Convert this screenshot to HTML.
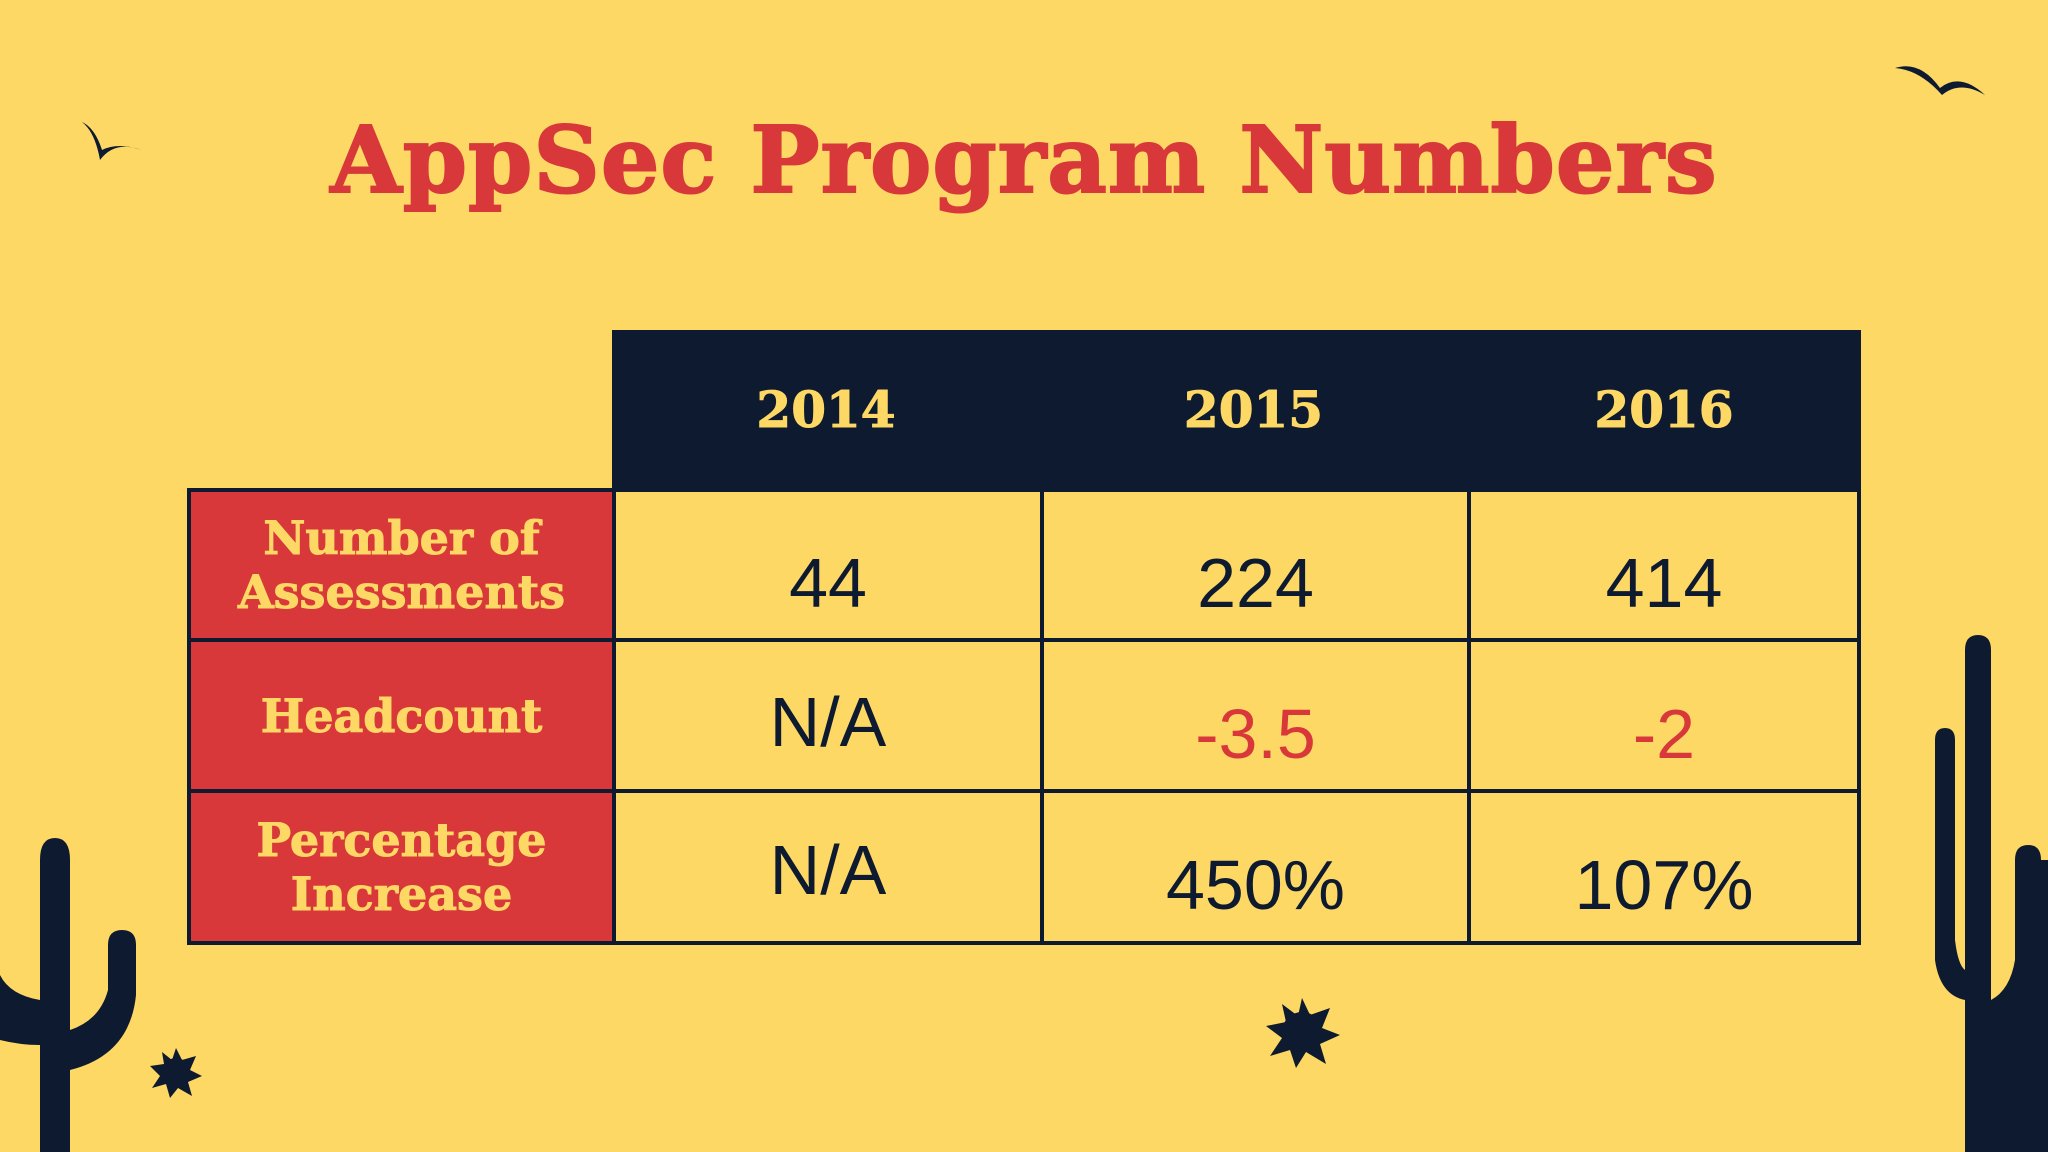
<!DOCTYPE html>
<html><head><meta charset="utf-8">
<style>
html,body{margin:0;padding:0}
body{width:2048px;height:1152px;background:#fdd865;position:relative;overflow:hidden;font-family:"Liberation Sans",sans-serif}
.abs{position:absolute}
.title{left:0;width:2048px;top:106px;text-align:center;font-family:"DejaVu Serif",serif;font-weight:bold;font-size:92px;color:#d8383a;letter-spacing:1px;-webkit-text-stroke:2px #d8383a}
.hdr{background:#0d1a30;left:612px;top:330px;width:1249px;height:160px}
.yr{top:330px;height:160px;line-height:160px;text-align:center;font-family:"DejaVu Serif",serif;font-weight:bold;font-size:50px;color:#fdd865;-webkit-text-stroke:1px #fdd865}
.cell{box-sizing:border-box;border:4px solid #0d1a30;display:flex;align-items:center;justify-content:center;text-align:center}
.lab{background:#d8383a;color:#fdd865;font-family:"DejaVu Serif",serif;font-weight:bold;font-size:46px;line-height:54px;-webkit-text-stroke:1px #fdd865}
.val{font-size:70px;color:#0d1a30;padding-top:36px}
.red{color:#d8383a}
</style></head><body>
<div class="abs title">AppSec Program Numbers</div>

<svg class="abs" style="left:0;top:0" width="2048" height="1152">
  <path d="M82 122 Q95 132 100 160 Q115 140 142 150 Q118 142 102 150 Q95 128 82 122Z" fill="#0d1a30"/>
  <path d="M1895 68 Q1920 60 1940 88 Q1960 72 1985 95 Q1960 80 1942 95 Q1920 70 1895 68Z" fill="#0d1a30"/>
  <path d="M40 1152 L40 860 Q40 838 55 838 Q70 838 70 860 L70 1030 Q100 1020 108 990 L108 945 Q108 930 122 930 Q136 930 136 945 L136 995 Q130 1055 70 1070 L70 1152Z M40 1000 Q10 995 0 975 L0 1040 Q20 1045 40 1045Z" fill="#0d1a30"/>
  <path d="M1965 1152 L1965 650 Q1965 635 1978 635 Q1991 635 1991 650 L1991 1000 Q2010 990 2015 960 L2015 860 Q2015 845 2028 845 Q2041 845 2041 860 L2048 860 L2048 1152Z M1965 1000 Q1940 995 1935 960 L1935 740 Q1935 728 1945 728 Q1955 728 1955 740 L1955 940 Q1958 965 1965 970Z" fill="#0d1a30"/>
  <g fill="#0d1a30"><circle cx="1302" cy="1032" r="20"/><polygon points="1302,998 1310,1015 1330,1008 1322,1028 1340,1035 1320,1044 1326,1064 1306,1052 1296,1068 1290,1050 1270,1056 1282,1038 1266,1026 1286,1022 1282,1004 1298,1016"/>
  <circle cx="176" cy="1072" r="14"/><polygon points="176,1048 182,1060 196,1056 190,1070 202,1076 188,1082 192,1096 178,1088 170,1098 166,1084 152,1088 160,1076 150,1066 164,1064 162,1052 172,1060"/></g>
</svg>

<div class="abs hdr"></div>
<div class="abs yr" style="left:612px;width:428px">2014</div>
<div class="abs yr" style="left:1040px;width:427px">2015</div>
<div class="abs yr" style="left:1467px;width:394px">2016</div>

<!-- row 1 -->
<div class="abs cell lab" style="left:187px;top:488px;width:429px;height:154px">Number of<br>Assessments</div>
<div class="abs cell val" style="left:612px;top:488px;width:432px;height:154px">44</div>
<div class="abs cell val" style="left:1040px;top:488px;width:431px;height:154px">224</div>
<div class="abs cell val" style="left:1467px;top:488px;width:394px;height:154px">414</div>
<!-- row 2 -->
<div class="abs cell lab" style="left:187px;top:638px;width:429px;height:155px">Headcount</div>
<div class="abs cell val" style="left:612px;top:638px;width:432px;height:155px;padding-top:12px">N/A</div>
<div class="abs cell val red" style="left:1040px;top:638px;width:431px;height:155px">-3.5</div>
<div class="abs cell val red" style="left:1467px;top:638px;width:394px;height:155px">-2</div>
<!-- row 3 -->
<div class="abs cell lab" style="left:187px;top:789px;width:429px;height:156px">Percentage<br>Increase</div>
<div class="abs cell val" style="left:612px;top:789px;width:432px;height:156px;padding-top:6px">N/A</div>
<div class="abs cell val" style="left:1040px;top:789px;width:431px;height:156px">450%</div>
<div class="abs cell val" style="left:1467px;top:789px;width:394px;height:156px">107%</div>
</body></html>
